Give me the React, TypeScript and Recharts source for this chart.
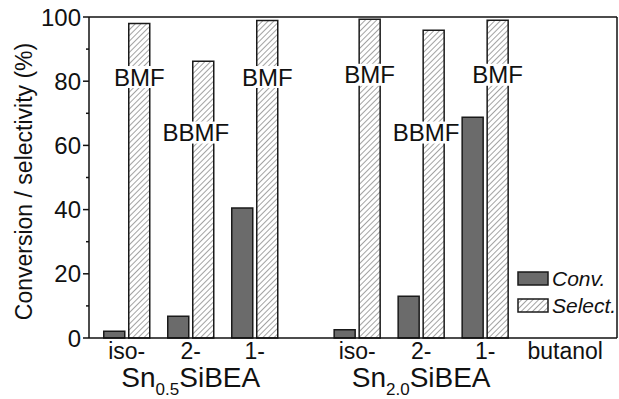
import { ComposedChart, Bar, Line, XAxis, YAxis, ReferenceLine, LabelList, Legend } from 'recharts';

const FONT = '"Liberation Sans", Arial, sans-serif';
const INK = '#111';

// x positions of the six catalyst/butanol groups (gap between the two catalysts)
const positions = [1, 2, 3, 4.6, 5.6, 6.6];
const conversion = [2.1, 6.8, 40.5, 2.6, 13, 68.8];
const selectivity = [98, 86.2, 98.9, 99.3, 95.9, 99];
const products = ['BMF', 'BBMF', 'BMF', 'BMF', 'BBMF', 'BMF'];
const productLabelAt = [81.3, 64, 81.3, 82, 64, 82];

const xTicks = [1, 2, 3, 4.6, 5.6, 6.6, 7.85];
const xTickLabels = ['iso-', '2-', '1-', 'iso-', '2-', '1-', 'butanol'];
const catalystAt = [2, 5.6];
const catalystSub = ['0.5', '2.0'];

const yTicks = [0, 10, 20, 30, 40, 50, 60, 70, 80, 90, 100];
const legendNames = ['Conv.', 'Select.'];

const data = positions.map((pos, i) => ({
    pos,
    conv: conversion[i],
    sel: selectivity[i],
    product: products[i],
    labelAt: productLabelAt[i],
}));

function XTick({ x, y, payload }: any) {
    const i = xTicks.indexOf(payload.value);
    const c = catalystAt.indexOf(payload.value);
    return (
        <g fill={INK} fontFamily={FONT}>
            <text x={x} y={y + 21} textAnchor="middle" fontSize={23}>{xTickLabels[i]}</text>
            {c >= 0 && (
                <text x={x} y={y + 49} textAnchor="middle" fontSize={28}>
                    Sn<tspan fontSize={17} dy={8}>{catalystSub[c]}</tspan>
                    <tspan dy={-8}>SiBEA</tspan>
                </text>
            )}
        </g>
    );
}

function YTick({ x, y, payload }: any) {
    const major = payload.value % 20 === 0;
    return (
        <g>
            <line x1={x - (major ? 6 : 3)} x2={x} y1={y} y2={y} stroke={INK} strokeWidth={1.5} />
            {major && (
                <text x={x - 8} y={y} dy="0.36em" textAnchor="end" fontSize={24} fill={INK} fontFamily={FONT}>
                    {payload.value}
                </text>
            )}
        </g>
    );
}

function ProductLabel({ x, y, value }: any) {
    const w = String(value).length * 16.5 + 2;
    const cx = x + (value === 'BBMF' ? 5 : 12.5);
    return (
        <g>
            <rect x={cx - w / 2} y={y - 11} width={w} height={22} fill="#fff" />
            <text x={cx} y={y} dy="0.36em" textAnchor="middle" fontSize={24} fill={INK} fontFamily={FONT}>
                {value}
            </text>
        </g>
    );
}

function AxisTitle({ viewBox }: any) {
    const cx = viewBox.x + 24;
    const cy = viewBox.y + viewBox.height / 2 + 4;
    return (
        <text x={cx} y={cy} transform={`rotate(-90 ${cx} ${cy})`} textAnchor="middle" dy="0.36em"
            fontSize={23} fill={INK} fontFamily={FONT}>
            Conversion / selectivity (%)
        </text>
    );
}

function LegendBox() {
    return (
        <div style={{ fontFamily: FONT, fontSize: 21, fontStyle: 'italic', color: INK }}>
            {legendNames.map((name, i) => (
                <div key={name} style={{ display: 'flex', alignItems: 'center', height: 27 }}>
                    <svg width={32} height={15}>
                        <defs>
                            <pattern id="hatchLegend" width="4" height="4" patternUnits="userSpaceOnUse" patternTransform="rotate(45)">
                                <rect width="4" height="4" fill="#fff" />
                                <line x1="0" y1="0" x2="0" y2="4" stroke="#333" strokeWidth="0.9" />
                            </pattern>
                        </defs>
                        <rect x={1} y={1} width={30} height={13} fill={i === 0 ? '#6b6b6b' : 'url(#hatchLegend)'}
                            stroke="#1a1a1a" strokeWidth={1.5} />
                    </svg>
                    <span style={{ marginLeft: 3, lineHeight: 1 }}>{name}</span>
                </div>
            ))}
        </div>
    );
}

export default function App() {
    return (
        <div style={{ position: 'absolute', left: 0, top: 0, background: '#fff' }}>
            <ComposedChart
                width={619}
                height={399}
                data={data}
                margin={{ top: 17, right: 2, left: 0, bottom: 0 }}
                barGap={4}
            >
                <defs>
                    <pattern id="hatch" width="4" height="4" patternUnits="userSpaceOnUse" patternTransform="rotate(45)">
                        <rect width="4" height="4" fill="#fff" />
                        <line x1="0" y1="0" x2="0" y2="4" stroke="#333" strokeWidth="0.9" />
                    </pattern>
                </defs>
                <XAxis
                    dataKey="pos"
                    type="number"
                    domain={[0.41, 8.66]}
                    allowDataOverflow
                    ticks={xTicks}
                    interval={0}
                    tick={<XTick />}
                    tickLine={false}
                    tickSize={0}
                    tickMargin={0}
                    height={61}
                    axisLine={{ stroke: INK, strokeWidth: 1.5 }}
                />
                <YAxis
                    domain={[0, 100]}
                    ticks={yTicks}
                    interval={0}
                    width={89}
                    tick={<YTick />}
                    tickLine={false}
                    tickSize={0}
                    tickMargin={0}
                    axisLine={{ stroke: INK, strokeWidth: 1.5 }}
                    label={<AxisTitle />}
                />
                <Bar dataKey="conv" name="Conv." fill="#6b6b6b" stroke="#1a1a1a" strokeWidth={1.5} barSize={21} isAnimationActive={false} />
                <Bar dataKey="sel" name="Select." fill="url(#hatch)" stroke="#1a1a1a" strokeWidth={1.5} barSize={21} isAnimationActive={false} />
                <Line dataKey="labelAt" stroke="none" dot={false} activeDot={false} legendType="none" isAnimationActive={false}>
                    <LabelList dataKey="product" content={<ProductLabel />} />
                </Line>
                <ReferenceLine y={100} stroke={INK} strokeWidth={1.5} />
                <ReferenceLine x={8.66} stroke={INK} strokeWidth={1.5} />
                <Legend
                    layout="vertical"
                    align="center"
                    verticalAlign="middle"
                    content={<LegendBox />}
                    wrapperStyle={{ position: 'absolute', left: 517, top: 265, width: 'auto', height: 'auto' }}
                />
            </ComposedChart>
        </div>
    );
}
